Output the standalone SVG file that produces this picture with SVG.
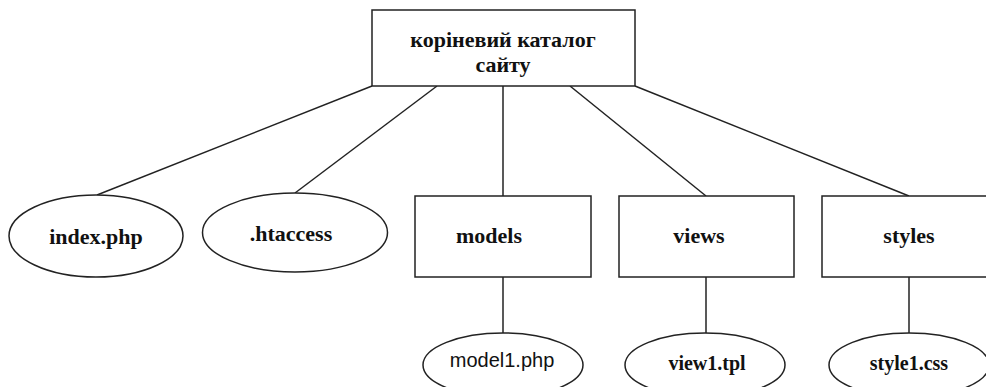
<svg xmlns="http://www.w3.org/2000/svg" width="986" height="387" viewBox="0 0 986 387">
<style>
.shape{fill:#fff;stroke:#222;stroke-width:1.5}
.conn line{stroke:#222;stroke-width:1.5}
.t{font-family:"Liberation Serif","Times New Roman",serif;font-weight:bold;font-size:22px;fill:#111;text-anchor:middle}
.s{font-family:"Liberation Serif","Times New Roman",serif;font-weight:bold;font-size:20px;fill:#111;text-anchor:middle}
.a{font-family:"Liberation Sans",Arial,sans-serif;font-size:20px;fill:#111;text-anchor:middle}
</style>
<rect width="986" height="387" fill="#fff"/>
<g id="connectors" class="conn">
<line x1="372" y1="86" x2="97" y2="195"/>
<line x1="437" y1="86" x2="295" y2="193"/>
<line x1="503" y1="86" x2="503" y2="196"/>
<line x1="570" y1="86" x2="706" y2="196"/>
<line x1="635" y1="86" x2="909" y2="196"/>
<line x1="503" y1="277" x2="503" y2="333"/>
<line x1="706" y1="277" x2="706" y2="333"/>
<line x1="909" y1="277" x2="909" y2="333"/>
</g>
<g id="root">
<rect class="shape" x="372" y="10" width="263" height="76"/>
<text class="t" x="503" y="47">коріневий каталог</text>
<text class="t" x="503" y="72">сайту</text>
</g>
<g id="index">
<ellipse class="shape" cx="96" cy="236" rx="87" ry="41"/>
<text class="t" x="96" y="244">index.php</text>
</g>
<g id="htaccess">
<ellipse class="shape" cx="295" cy="232.5" rx="92.5" ry="39.5"/>
<text class="t" x="291" y="241">.htaccess</text>
</g>
<g id="models">
<rect class="shape" x="415" y="196" width="176" height="81"/>
<text class="t" x="489" y="243">models</text>
</g>
<g id="views">
<rect class="shape" x="619" y="196" width="175" height="81"/>
<text class="t" x="699" y="243">views</text>
</g>
<g id="styles">
<rect class="shape" x="822" y="196" width="176" height="81"/>
<text class="t" x="909" y="243">styles</text>
</g>
<g id="model1">
<ellipse class="shape" cx="503" cy="365" rx="80" ry="32"/>
<text class="a" x="502" y="367">model1.php</text>
</g>
<g id="view1">
<ellipse class="shape" cx="705" cy="365" rx="80" ry="32"/>
<text class="s" x="707" y="370">view1.tpl</text>
</g>
<g id="style1">
<ellipse class="shape" cx="909" cy="365" rx="80" ry="32"/>
<text class="s" x="909" y="370">style1.css</text>
</g>
</svg>
